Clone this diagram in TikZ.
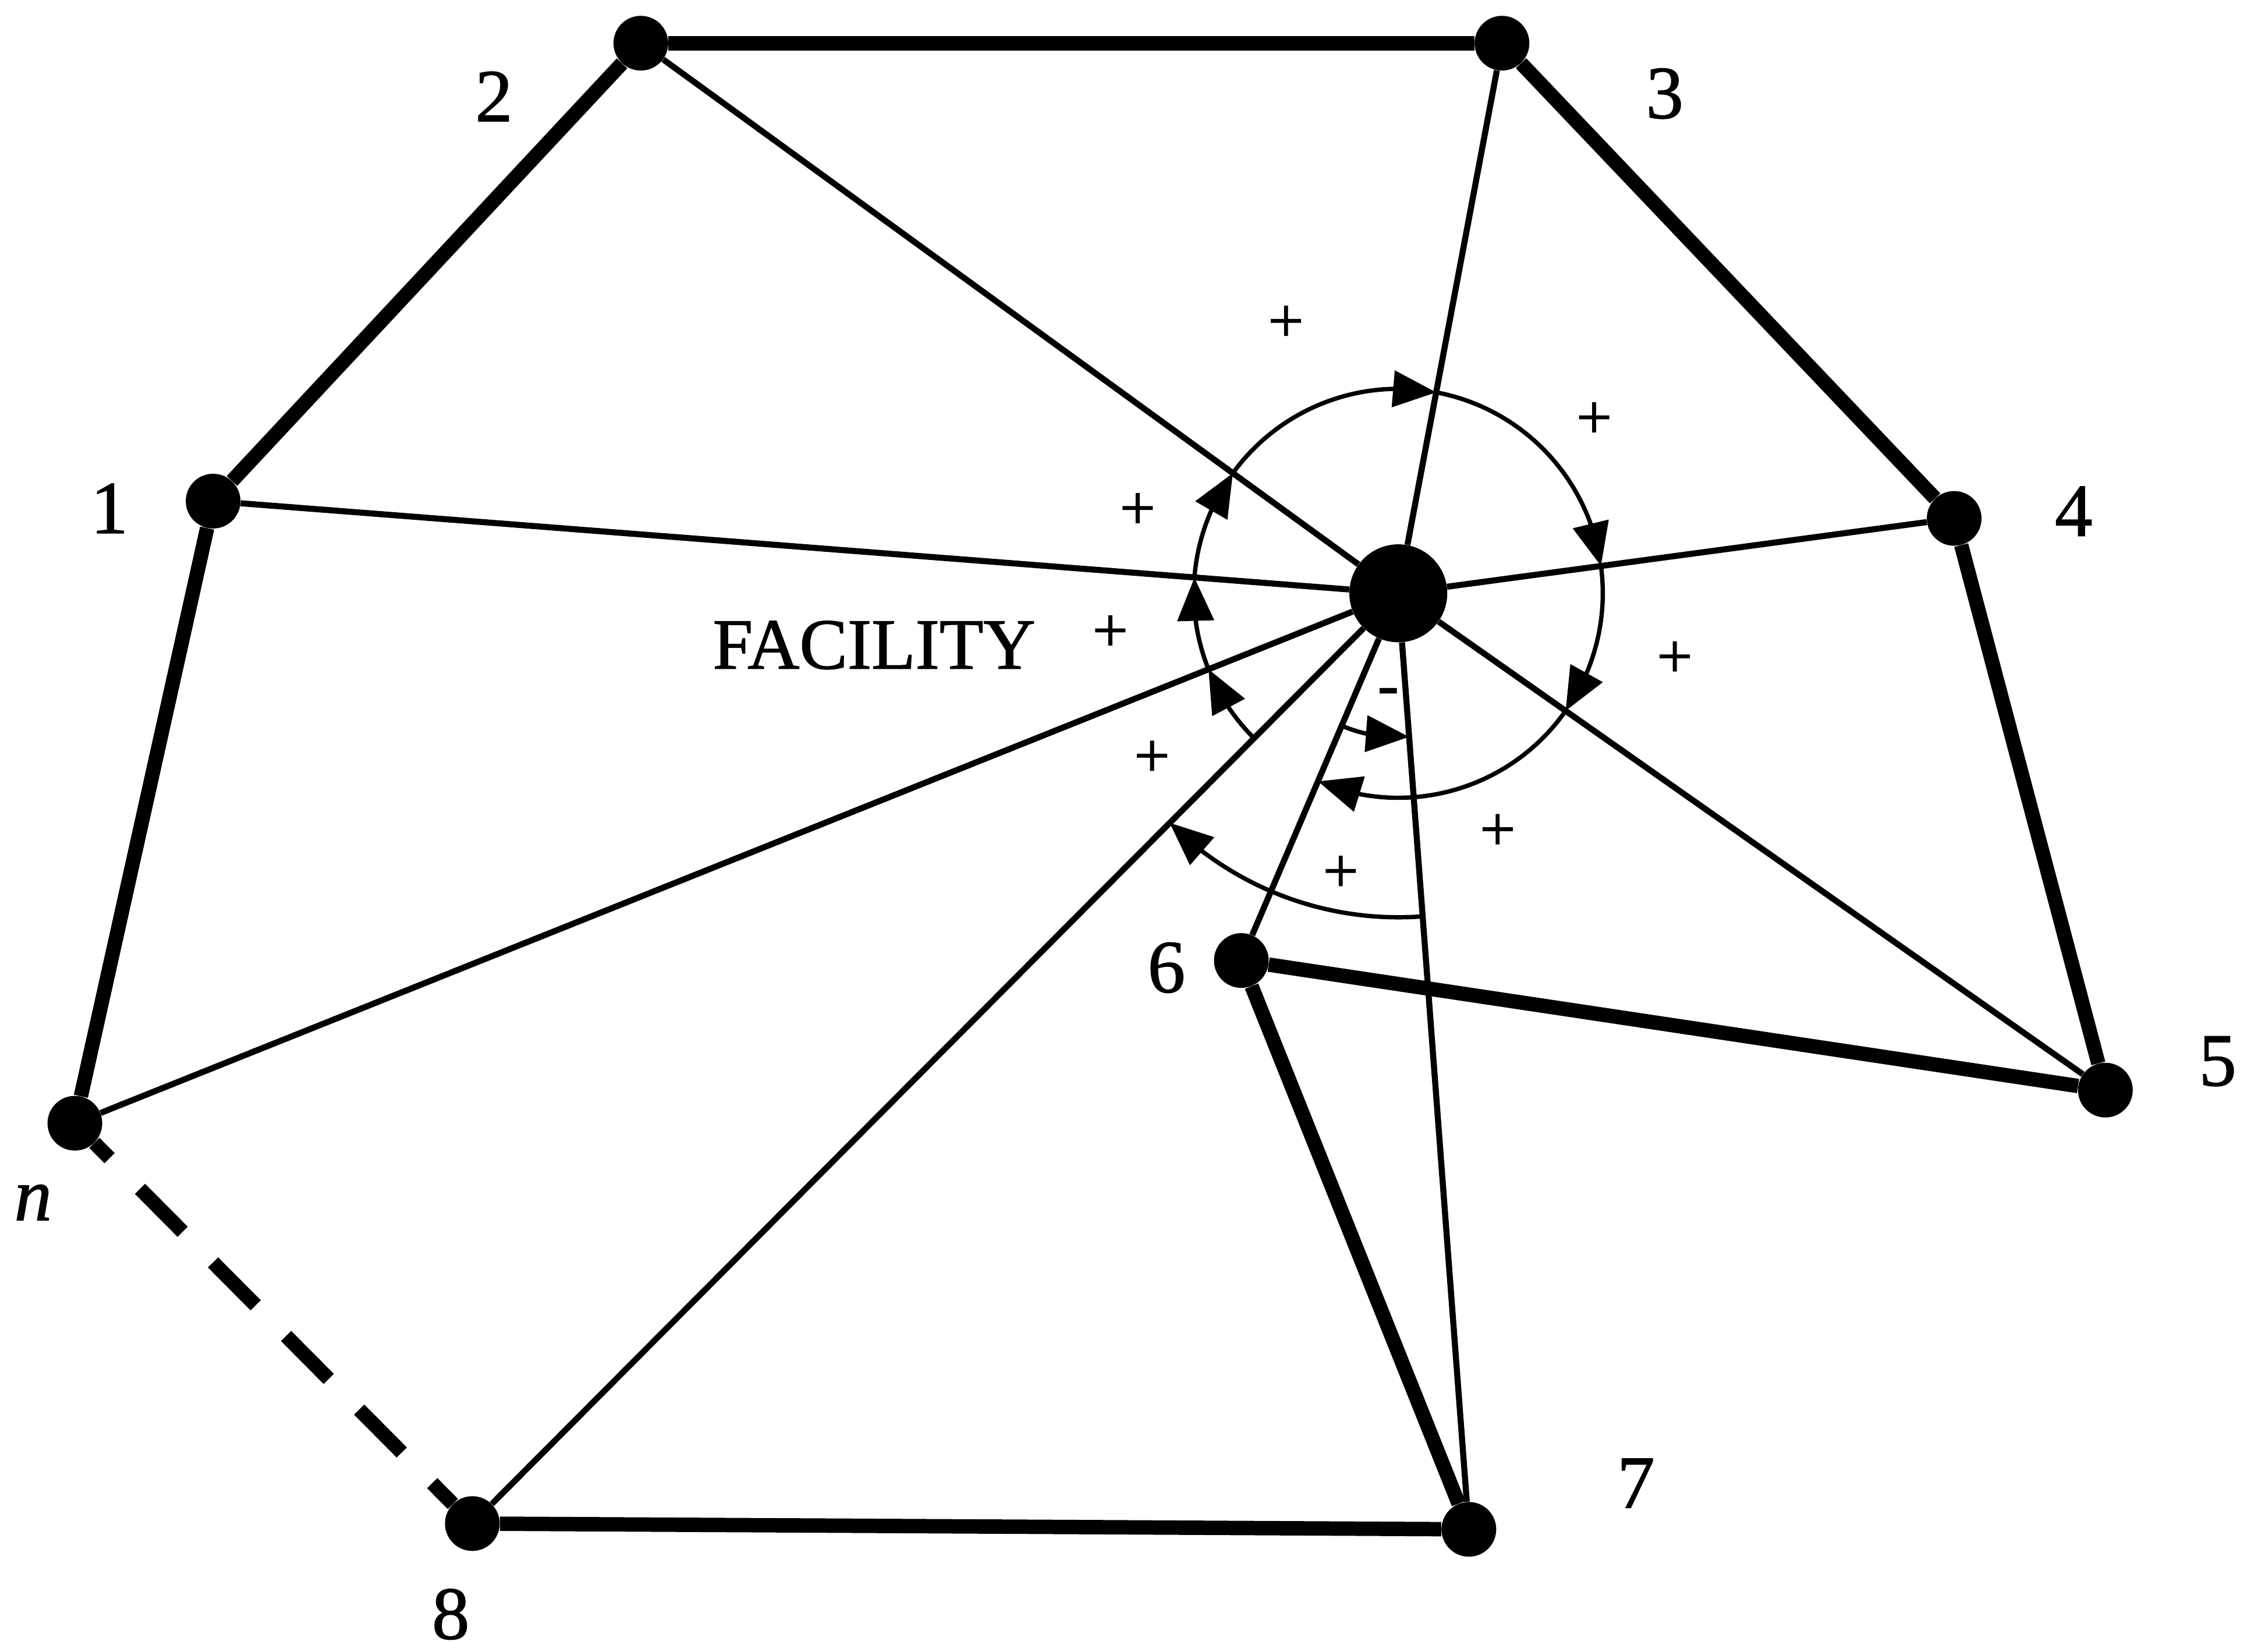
\documentclass[tikz,border=0pt]{standalone}
\usepackage{fontspec}
\setmainfont{Liberation Serif}[FakeBold=1.2]
\usetikzlibrary{arrows.meta,bending}
\tikzset{
  dot/.style={circle,fill=black,inner sep=0pt,minimum size=38pt},
  hub/.style={circle,fill=black,inner sep=0pt,minimum size=68pt},
  rim/.style={line width=10pt},
  spoke/.style={line width=4.2pt},
  turn/.style={line width=3pt,-{Triangle[flex,length=30pt,width=25pt]}},
  lbl/.style={font=\fontsize{52}{60}\selectfont},
  sgn/.style={font=\fontsize{44}{50}\selectfont}
}
\begin{document}
\begin{tikzpicture}[x=1pt,y=1pt]
\useasboundingbox (0,0) rectangle (1568,-1147);
\node[hub] (fac) at (971,-412) {};
\foreach \n/\x/\y in {1/148/348,2/445/30,3/1043/30,4/1357/360,5/1462/757,6/862/667,7/1020/1062,8/328/1058,n/52/780}
  \node[dot] (v\n) at (\x,-\y) {};
% spokes to the facility
\foreach \n in {1,2,3,4,5,6,7,8,n} \draw[spoke] (fac) -- (v\n);
% tour
\foreach \a/\b in {1/2,2/3,3/4,4/5,5/6,6/7,7/8,n/1} \draw[rim] (v\a) -- (v\b);
\draw[rim,dash pattern=on 42pt off 30pt,dash phase=27pt] (vn) -- (v8);
% angles swept between consecutive spokes
\foreach \a/\b/\r in {175.6/144/142,144/79.3/142,79.3/7.7/142,7.7/-35.1/142,-35.1/-113.1/142,-113.1/-85.7/100,-85.7/-134.9/225,-134.9/-158.2/142,-158.2/-184.4/142}
  \draw[turn] ([shift={(\a:\r)}]fac.center) arc[start angle=\a,end angle=\b,radius=\r];
\foreach \x/\y [count=\i] in {893/225,1107/292,1163/458,1040/578,931/607,800/527,771/440,790/355}
  \node[sgn] (s\i) at (\x,-\y) {+};
\node[sgn] (s0) at (964,-484) {-};
\foreach \n/\x/\y in {1/76/353,2/343/67,3/1156/65,4/1440/355,5/1540/737,6/810/672,7/1136/1030,8/313/1121}
  \node[lbl] (l\n) at (\x,-\y) {\n};
\node[lbl] (ln) at (23,-835) {\textit{n}};
\node[font=\fontsize{50}{56}\selectfont] (tfac) at (607,-448) {FACILITY};
\end{tikzpicture}
\end{document}
